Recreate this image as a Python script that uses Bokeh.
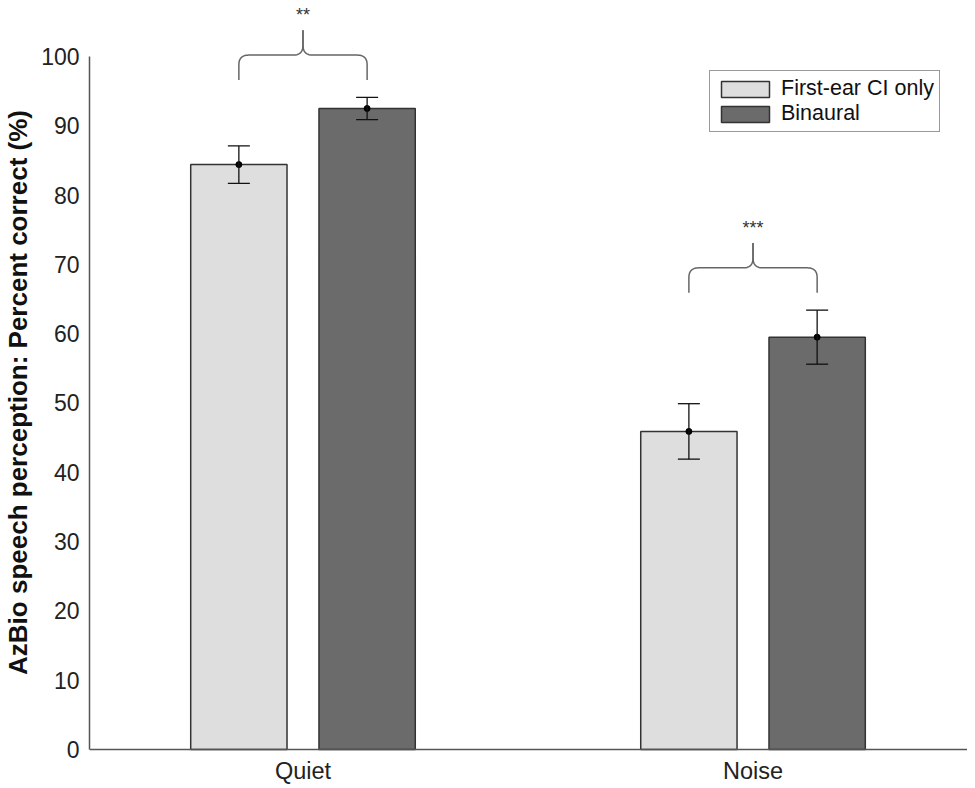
import numpy as np
from bokeh.plotting import figure
from bokeh.models import (ColumnDataSource, Whisker, TeeHead, FixedTicker, Legend, LegendItem,
                          Range1d, Span)
from bokeh.embed import file_html
from bokeh.resources import INLINE
from bokeh.core.properties import value

conditions = ["Quiet", "Noise"]
series = ["First-ear CI only", "Binaural"]
first_ear = [84.4, 45.9]
first_ear_err = [2.7, 4.0]
binaural = [92.5, 59.5]
binaural_err = [1.6, 3.9]
significance = ["**", "***"]
y_ticks = [0, 10, 20, 30, 40, 50, 60, 70, 80, 90, 100]

FONT = "Liberation Sans"
colors = ["#dedede", "#6b6b6b"]
offset = 0.1425
bw = 0.214

p = figure(width=967, height=784, output_backend="svg", toolbar_location=None,
           x_range=Range1d(0.5256, 2.4766), y_range=Range1d(-5.05, 108.08),
           x_axis_location=None,
           min_border_left=82, min_border_right=0, min_border_top=0, min_border_bottom=0)
p.outline_line_color = None
p.xgrid.visible = False
p.ygrid.visible = False
p.background_fill_color = "white"

# x axis line at zero
p.add_layout(Span(location=0, dimension="width", line_color="#555555", line_width=1.5))

xc = np.arange(1, len(conditions) + 1)
renderers = []
for i, (vals, errs) in enumerate([(first_ear, first_ear_err), (binaural, binaural_err)]):
    xs = xc + (-offset if i == 0 else offset)
    src = ColumnDataSource(dict(x=xs, top=vals,
                                lo=np.array(vals) - np.array(errs),
                                hi=np.array(vals) + np.array(errs)))
    r = p.vbar(x="x", top="top", width=bw, bottom=0, source=src,
               fill_color=colors[i], line_color="#333333", line_width=1.5)
    renderers.append(r)
    w = Whisker(base="x", lower="lo", upper="hi", source=src, line_color="#111111",
                line_width=1.3, level="overlay",
                upper_head=TeeHead(size=22, line_color="#111111", line_width=1.3),
                lower_head=TeeHead(size=22, line_color="#111111", line_width=1.3))
    p.add_layout(w)
    p.scatter(x="x", y="top", source=src, size=6, color="black", level="overlay")

# category labels below the axis line
p.text(x=xc, y=[0] * len(xc), text=conditions, y_offset=8, text_align="center",
       text_baseline="top", text_font=value(FONT), text_font_size="23.5px",
       text_color="#222222")

# brackets
t = np.linspace(0, 1, 15)


def qb(p0, c, p1):
    return ((1 - t) ** 2)[:, None] * np.array(p0) + (2 * (1 - t) * t)[:, None] * np.array(c) + (t ** 2)[:, None] * np.array(p1)


for j in range(len(conditions)):
    x0 = xc[j] - offset
    x1 = xc[j] + offset
    xm = (x0 + x1) / 2
    top = max(first_ear[j] + first_ear_err[j], binaural[j] + binaural_err[j])
    yb = top + 2.5
    yf = yb + 3.6
    yp = yf + 3.6
    dx = 0.022
    dy = 1.4
    left = np.vstack([
        [[x0, yb]],
        qb((x0, yf - dy), (x0, yf), (x0 + dx, yf)),
        qb((xm - dx, yf), (xm, yf), (xm, yf + dy)),
        [[xm, yp]],
    ])
    right = np.vstack([
        [[xm, yp]],
        qb((xm, yf + dy), (xm, yf), (xm + dx, yf)),
        qb((x1 - dx, yf), (x1, yf), (x1, yf - dy)),
        [[x1, yb]],
    ])
    p.line(left[:, 0], left[:, 1], line_color="#666666", line_width=1.5)
    p.line(right[:, 0], right[:, 1], line_color="#666666", line_width=1.5)
    p.text(x=[xm], y=[yp + 3.6], text=[significance[j]], text_align="center",
           text_baseline="top", text_font=value(FONT), text_font_size="18px",
           text_color="#333333")

legend = Legend(items=[LegendItem(label=series[0], renderers=[renderers[0]]),
                       LegendItem(label=series[1], renderers=[renderers[1]])],
                location=(620, 652))
legend.label_text_font = FONT
legend.label_text_font_size = "21.5px"
legend.label_text_color = "#111111"
legend.glyph_width = 60
legend.glyph_height = 20
legend.label_height = 20
legend.spacing = 0
legend.padding = 5
legend.margin = 0
legend.label_standoff = 6
legend.border_line_color = "#333333"
legend.border_line_width = 1.3
legend.background_fill_alpha = 1
p.add_layout(legend, "center")

p.yaxis.ticker = FixedTicker(ticks=y_ticks)
p.yaxis.bounds = (0, 100)
ax = p.yaxis[0]
ax.major_tick_line_color = None
ax.minor_tick_line_color = None
ax.major_tick_out = 0
ax.major_tick_in = 0
ax.minor_tick_out = 0
ax.minor_tick_in = 0
ax.axis_line_color = "#555555"
ax.axis_line_width = 1.5
ax.major_label_text_font = FONT
ax.major_label_text_font_size = "23px"
ax.major_label_text_color = "#222222"
ax.major_label_standoff = 10
ax.axis_label = "AzBio speech perception: Percent correct (%)"
ax.axis_label_text_font = FONT
ax.axis_label_text_font_size = "26px"
ax.axis_label_text_font_style = "bold"
ax.axis_label_text_color = "#111111"
ax.axis_label_standoff = 5

open("out.html", "w").write(file_html(p, INLINE))
